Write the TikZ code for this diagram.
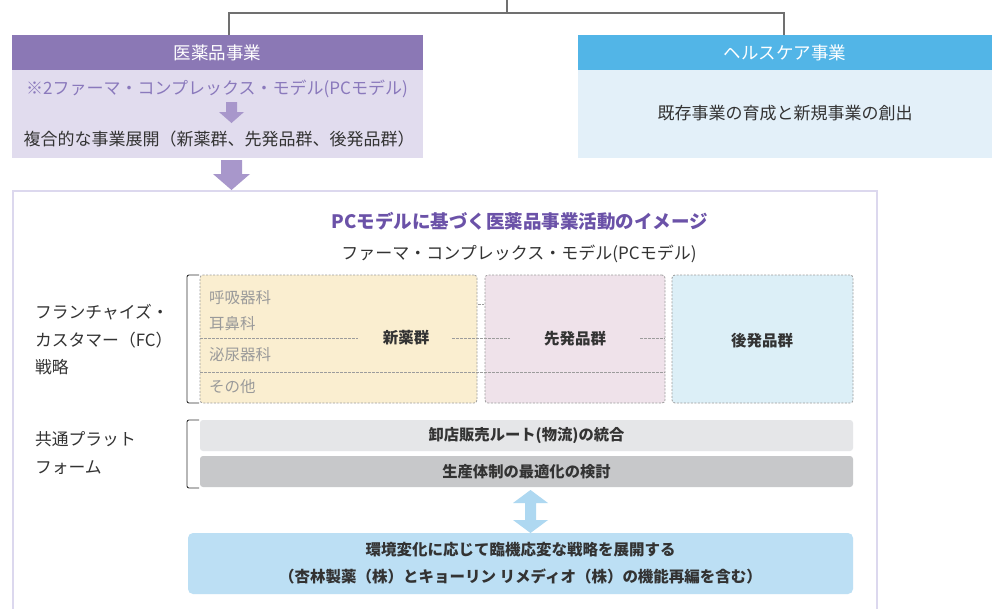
\documentclass[tikz,border=0pt]{standalone}
\usepackage{fontspec}
\setmainfont{Noto Sans CJK JP}
\definecolor{purpleH}{HTML}{8B78B5}
\definecolor{purpleB}{HTML}{E1DCEE}
\definecolor{purpleT}{HTML}{8A79BC}
\definecolor{purpleTitle}{HTML}{6B52A8}
\definecolor{purpleA}{HTML}{A897CB}
\definecolor{blueH}{HTML}{52B5E7}
\definecolor{blueB}{HTML}{E3F0F9}
\definecolor{frameC}{HTML}{DCD8EE}
\definecolor{newC}{HTML}{FAEED0}
\definecolor{preC}{HTML}{EFE2EA}
\definecolor{genC}{HTML}{DCEFF7}
\definecolor{dashC}{HTML}{9C9C9C}
\definecolor{barA}{HTML}{E5E6E8}
\definecolor{barB}{HTML}{C7C8CA}
\definecolor{dblA}{HTML}{AED8F1}
\definecolor{blueBox}{HTML}{BCDFF4}
\definecolor{txt}{HTML}{333333}
\definecolor{grayT}{HTML}{9A9A9A}
\definecolor{lineC}{HTML}{707070}
\begin{document}
\begin{tikzpicture}[x=1pt,y=-1pt,
  every node/.style={inner sep=0pt,outer sep=0pt,text=txt},
  box/.style={anchor=north west},
  hdr/.style={box,text=white,font=\fontsize{17.5}{20}\selectfont},
  body/.style={font=\fontsize{17}{20}\selectfont},
  side/.style={anchor=west,font=\fontsize{16.8}{27.5}\selectfont,align=left},
  dep/.style={anchor=west,text=grayT,font=\fontsize{15.5}{18}\selectfont},
  grp/.style={box,draw=dashC,dash pattern=on 2pt off 1.5pt,rounded corners=3pt,line width=0.8pt},
  grpT/.style={font=\bfseries\fontsize{15.5}{18}\selectfont},
  bar/.style={box,rounded corners=3pt,minimum width=653pt,minimum height=31pt,font=\bfseries\fontsize{15.3}{18}\selectfont},
  conn/.style={draw=lineC,line width=1.2pt},
  brk/.style={draw=txt,line width=0.9pt,rounded corners=2pt},
  dline/.style={draw=dashC,dash pattern=on 2.5pt off 1.5pt,line width=0.8pt}
]
\useasboundingbox (0,0) rectangle (999,608);

% top boxes
\node[hdr,fill=purpleH,minimum width=411pt,minimum height=35pt] (h1) at (12,35) {医薬品事業};
\node[box,fill=purpleB,minimum width=411pt,minimum height=88pt] (b1) at (12,70) {};
\node[hdr,fill=blueH,minimum width=414pt,minimum height=35pt] (h2) at (578,35) {ヘルスケア事業};
\node[box,fill=blueB,minimum width=414pt,minimum height=88pt] (b2) at (578,70) {};
\node[body] (hc) at (785,113) {既存事業の育成と新規事業の創出};

\node[body,text=purpleT] (pc1) at (217,89) {※2ファーマ・コンプレックス・モデル(PCモデル)};
\node[body] (mix) at (219,139) {複合的な事業展開（新薬群、先発品群、後発品群）};

% connector from top
\coordinate (top) at (507,0);
\coordinate (junc) at (507,13);
\coordinate (l1) at (229,35);
\coordinate (r1) at (784,35);
\draw[conn] (top) -- (junc);
\draw[conn] (l1) |- (junc) -| (r1);

% small arrow
\fill[purpleA] (226,102) -- (237,102) -- (237,112) -- (244,112) -- (231.5,123) -- (219,112) -- (226,112) -- cycle;

% frame
\node[box,draw=frameC,line width=2.5pt,fill=white,minimum width=864pt,minimum height=430pt] (frame) at (13,191) {};

% big arrow
\fill[purpleA] (221,160) -- (242,160) -- (242,174) -- (250,174) -- (231.5,190) -- (213,174) -- (221,174) -- cycle;

\node[font=\bfseries\fontsize{18.5}{22}\selectfont,text=purpleTitle] (title) at (520,221) {PCモデルに基づく医薬品事業活動のイメージ};
\node[body] (sub) at (519,254) {ファーマ・コンプレックス・モデル(PCモデル)};

% groups
\node[grp,fill=newC,minimum width=277pt,minimum height=128pt] (g1) at (200,275) {};
\node[grp,fill=preC,minimum width=180pt,minimum height=128pt] (g2) at (485,275) {};
\node[grp,fill=genC,minimum width=181pt,minimum height=128pt] (g3) at (672,275) {};

% dashed divider lines
\coordinate (d1a) at (200,338);
\coordinate (d1b) at (358,338);
\coordinate (d1c) at (452,338);
\coordinate (d1d) at (510,338);
\coordinate (d1e) at (640,338);
\coordinate (d1f) at (665,338);
\draw[dline] (d1a) -- (d1b);
\draw[dline] (d1c) -- (d1d);
\draw[dline] (d1e) -- (d1f);
\coordinate (d2a) at (200,372);
\coordinate (d2b) at (665,372);
\draw[dline] (d2a) -- (d2b);
\coordinate (d3a) at (478,304);
\coordinate (d3b) at (484,304);
\draw[dline] (d3a) -- (d3b);

\node[grpT] (t1) at (406,338) {新薬群};
\node[grpT] (t2) at (575,339) {先発品群};
\node[grpT] (t3) at (762,341) {後発品群};

\node[dep] (dp1) at (209,298) {呼吸器科};
\node[dep] (dp2) at (209,324) {耳鼻科};
\node[dep] (dp3) at (209,355) {泌尿器科};
\node[dep] (dp4) at (209,387) {その他};

% side labels
\node[side] (fc) at (35,340) {フランチャイズ・\\カスタマー（FC）\\戦略};
\node[side] (cp) at (35,453) {共通プラット\\フォーム};

% brackets
\coordinate (k1a) at (199,275);
\coordinate (k1b) at (187,275);
\coordinate (k1c) at (187,403);
\coordinate (k1d) at (199,403);
\draw[brk] (k1a) -- (k1b) -- (k1c) -- (k1d);
\coordinate (k2a) at (199,420);
\coordinate (k2b) at (187,420);
\coordinate (k2c) at (187,488);
\coordinate (k2d) at (199,488);
\draw[brk] (k2a) -- (k2b) -- (k2c) -- (k2d);

% bars
\node[bar,fill=barA] (bar1) at (200,420) {卸店販売ルート(物流)の統合};
\node[bar,fill=barB] (bar2) at (200,456) {生産体制の最適化の検討};

% double arrow
\fill[dblA] (530.5,490) -- (548,503) -- (536,503) -- (536,520) -- (548,520) -- (530.5,533) -- (513,520) -- (525,520) -- (525,503) -- (513,503) -- cycle;

% blue box
\node[box,fill=blueBox,rounded corners=5pt,minimum width=665pt,minimum height=61pt,align=center,font=\bfseries\fontsize{15.5}{27}\selectfont] (env) at (188,533) {環境変化に応じて臨機応変な戦略を展開する\\（杏林製薬（株）とキョーリン リメディオ（株）の機能再編を含む）};
\end{tikzpicture}
\end{document}
